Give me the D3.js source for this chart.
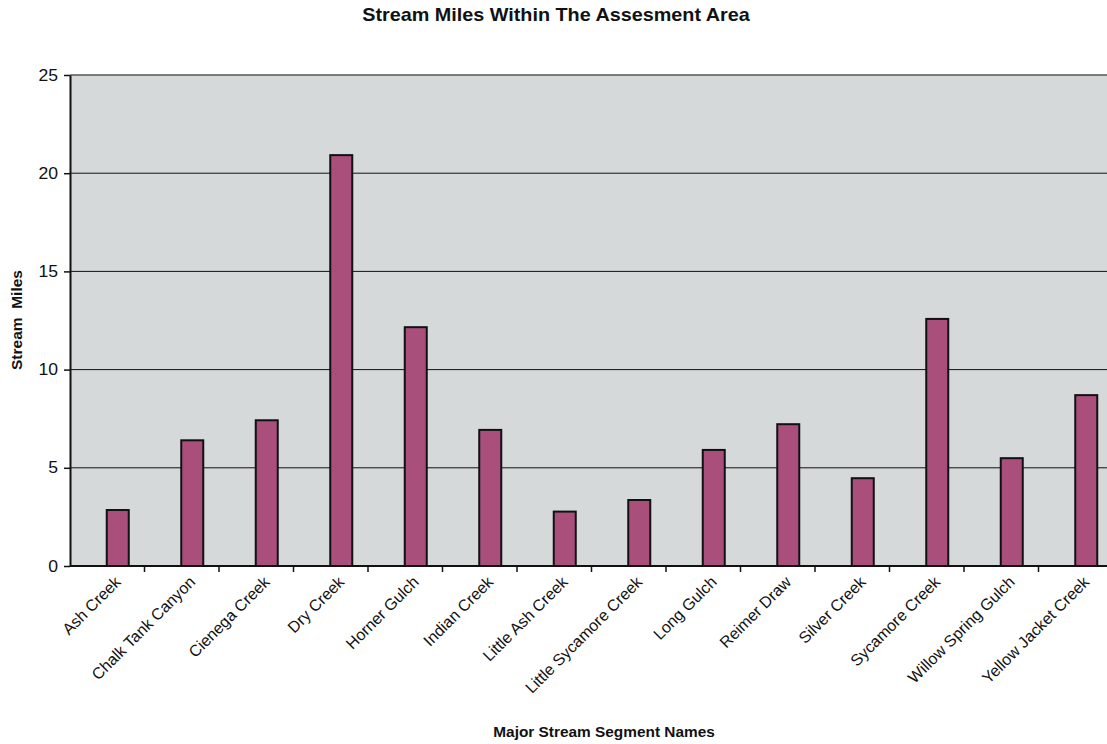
<!DOCTYPE html>
<html>
<head>
<meta charset="utf-8">
<script src="https://cdn.jsdelivr.net/npm/d3@7"></script>
<style>
  html, body { margin: 0; padding: 0; background: #fff; overflow: hidden; }
  svg { display: block; font-family: Arial, "Liberation Sans", sans-serif; }
</style>
</head>
<body>
<svg id="chart" width="1107" height="744"></svg>
<script>
// stream segments and their miles
var streams = [
  'Ash Creek', 'Chalk Tank Canyon', 'Cienega Creek', 'Dry Creek', 'Horner Gulch',
  'Indian Creek', 'Little Ash Creek', 'Little Sycamore Creek', 'Long Gulch',
  'Reimer Draw', 'Silver Creek', 'Sycamore Creek', 'Willow Spring Gulch', 'Yellow Jacket Creek'
];
var miles = [2.85, 6.4, 7.42, 20.92, 12.16, 6.93, 2.77, 3.36, 5.91, 7.22, 4.47, 12.58, 5.49, 8.7];
var yTicks = [0, 5, 10, 15, 20, 25];

(function () {
  'use strict';

  var svg = d3.select('#chart');
  var left = 70, top = 75, bottom = 566;
  var step = 74.5;
  var right = left + step * streams.length;   // runs past the window edge like the scan
  var stretch = 1.1;                           // the scan is a little wider than tall

  var x = d3.scaleBand().domain(streams).range([left, right]).padding(0);
  var y = d3.scaleLinear().domain([0, 25]).range([bottom, top]);

  var barW = 22;
  var barShift = 10.5;   // bars sit a little right of the band centre in the original
  function barCenter(d) { return x(d) + x.bandwidth() / 2 + barShift; }

  // plot area
  svg.append('rect')
    .attr('x', left).attr('y', top)
    .attr('width', right - left).attr('height', bottom - top)
    .attr('fill', '#d6d9d9');

  // gridlines
  svg.append('g')
    .selectAll('line').data(yTicks.filter(function (t) { return t > 0; })).enter()
    .append('line')
    .attr('x1', left).attr('x2', right)
    .attr('y1', function (d) { return y(d); })
    .attr('y2', function (d) { return y(d); })
    .attr('stroke', function (d) { return d === 25 ? '#555' : '#111'; })
    .attr('stroke-width', function (d) { return d === 25 ? 1.5 : 1; });

  // bars
  svg.append('g')
    .selectAll('rect').data(streams).enter()
    .append('rect')
    .attr('x', function (d) { return barCenter(d) - barW / 2; })
    .attr('y', function (d, i) { return y(miles[i]); })
    .attr('width', barW)
    .attr('height', function (d, i) { return y(0) - y(miles[i]); })
    .attr('fill', '#aa4f7b')
    .attr('stroke', '#111')
    .attr('stroke-width', 2);

  // y axis
  var yAxis = svg.append('g')
    .attr('transform', 'translate(' + left + ',0)')
    .call(d3.axisLeft(y).tickValues(yTicks).tickSize(6).tickSizeOuter(0));
  yAxis.select('.domain').attr('stroke', '#111').attr('stroke-width', 2);
  yAxis.selectAll('.tick line').attr('stroke', '#111').attr('stroke-width', 1.5);
  yAxis.selectAll('.tick text')
    .attr('x', null)
    .attr('transform', 'translate(-12,0) scale(' + stretch + ',1)')
    .attr('fill', '#111')
    .style('font-size', '16px')
    .style('font-family', 'Arial, "Liberation Sans", sans-serif');

  // x axis: ticks at band boundaries
  var xAxisG = svg.append('g');
  xAxisG.append('line')
    .attr('x1', left).attr('x2', right)
    .attr('y1', bottom).attr('y2', bottom)
    .attr('stroke', '#111').attr('stroke-width', 2);
  xAxisG.selectAll('line.tk').data(streams.slice(1)).enter()
    .append('line').attr('class', 'tk')
    .attr('x1', function (d) { return x(d); })
    .attr('x2', function (d) { return x(d); })
    .attr('y1', bottom).attr('y2', bottom + 6)
    .attr('stroke', '#111').attr('stroke-width', 1.5);

  // category labels, rotated 45 degrees
  xAxisG.selectAll('text').data(streams).enter()
    .append('text')
    .attr('transform', function (d) {
      return 'translate(' + (barCenter(d) + 4) + ',' + (bottom + 17) + ') rotate(-45)';
    })
    .attr('text-anchor', 'end')
    .attr('fill', '#111')
    .style('font-size', '16px')
    .text(function (d) { return d; });

  // titles
  svg.append('text')
    .attr('transform', 'translate(556,21) scale(' + stretch + ',1)')
    .attr('text-anchor', 'middle')
    .attr('fill', '#111')
    .style('font-size', '18px').style('font-weight', 'bold')
    .text('Stream Miles Within The Assesment Area');

  svg.append('text')
    .attr('transform', 'translate(604,737) scale(' + stretch + ',1)')
    .attr('text-anchor', 'middle')
    .attr('fill', '#111')
    .style('font-size', '14px').style('font-weight', 'bold')
    .text('Major Stream Segment Names');

  svg.append('text')
    .attr('transform', 'translate(22,' + 320 + ') rotate(-90)')
    .attr('text-anchor', 'middle')
    .attr('fill', '#111')
    .style('font-size', '15.5px').style('font-weight', 'bold')
    .style('white-space', 'pre')
    .text('Stream  Miles');
})();
</script>
</body>
</html>
